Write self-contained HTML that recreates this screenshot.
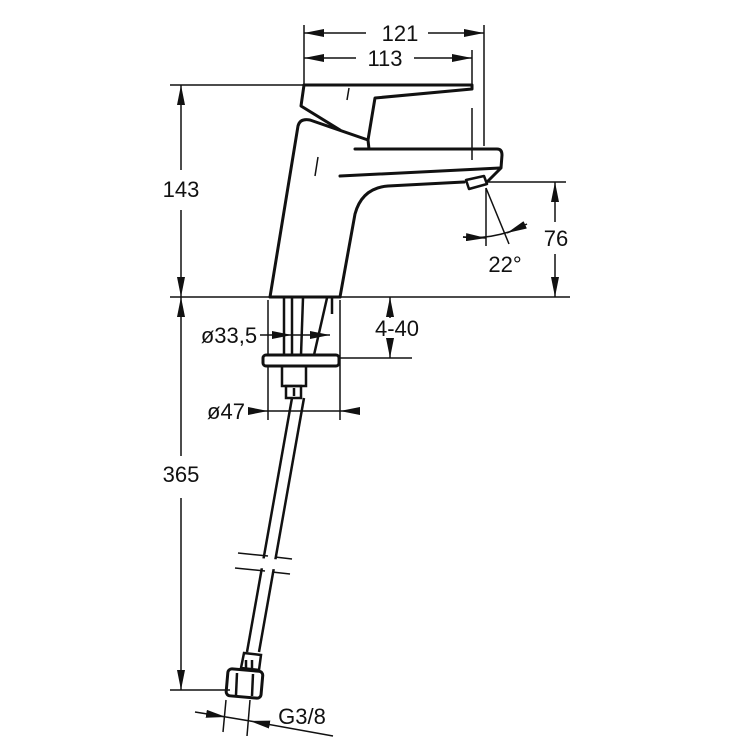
<!DOCTYPE html>
<html><head><meta charset="utf-8"><style>
html,body{margin:0;padding:0;background:#fff;}
svg{display:block;}
text{font-family:"Liberation Sans",sans-serif;font-size:22px;fill:#111;}
</style></head><body>
<svg width="750" height="750" viewBox="0 0 750 750" xmlns="http://www.w3.org/2000/svg">
<defs>
<marker id="a" viewBox="0 0 20 8" refX="20" refY="4" markerWidth="20" markerHeight="8" markerUnits="userSpaceOnUse" orient="auto-start-reverse"><path d="M0,0 L20,4 L0,8 Z" fill="#111"/></marker>
</defs>
<g stroke="#111" fill="none" stroke-width="1.5">
<line x1="304" y1="25" x2="304" y2="85"/>
<line x1="484" y1="25" x2="484" y2="146"/>
<line x1="472" y1="50" x2="472" y2="90"/>
<line x1="472" y1="108" x2="472" y2="160"/>
<line x1="170" y1="85" x2="304" y2="85"/>
<line x1="170" y1="297" x2="570" y2="297"/>
<line x1="486" y1="182" x2="566" y2="182"/>
<line x1="340" y1="358" x2="412" y2="358"/>
<line x1="170" y1="690" x2="230" y2="690"/>
<line x1="268" y1="300" x2="268" y2="420"/>
<line x1="340" y1="300" x2="340" y2="420"/>
<line x1="304" y1="33" x2="366" y2="33" marker-start="url(#a)"/>
<line x1="428" y1="33" x2="484" y2="33" marker-end="url(#a)"/>
<line x1="304" y1="58" x2="356" y2="58" marker-start="url(#a)"/>
<line x1="414" y1="58" x2="472" y2="58" marker-end="url(#a)"/>
<line x1="181" y1="85" x2="181" y2="170" marker-start="url(#a)"/>
<line x1="181" y1="210" x2="181" y2="297" marker-end="url(#a)"/>
<line x1="181" y1="297" x2="181" y2="456" marker-start="url(#a)"/>
<line x1="181" y1="498" x2="181" y2="690" marker-end="url(#a)"/>
<line x1="555" y1="182" x2="555" y2="222" marker-start="url(#a)"/>
<line x1="555" y1="254" x2="555" y2="297" marker-end="url(#a)"/>
<line x1="390" y1="297" x2="390" y2="318" marker-start="url(#a)"/>
<line x1="390" y1="336" x2="390" y2="358" marker-end="url(#a)"/>
<line x1="260" y1="335" x2="292" y2="335" marker-end="url(#a)"/>
<line x1="292" y1="335" x2="330" y2="335" marker-end="url(#a)"/>
<line x1="248" y1="411" x2="268" y2="411" marker-end="url(#a)"/>
<line x1="360" y1="411" x2="340" y2="411" marker-end="url(#a)"/>
<line x1="268" y1="411" x2="340" y2="411"/>
<line x1="195" y1="712" x2="226" y2="717" marker-end="url(#a)"/>
<line x1="226" y1="717" x2="250" y2="721"/>
<line x1="333" y1="736" x2="250" y2="721" marker-end="url(#a)"/>
<line x1="226" y1="700" x2="223" y2="732"/>
<line x1="250" y1="700" x2="247" y2="736"/>
<line x1="486" y1="188" x2="486" y2="246"/>
<line x1="486" y1="188" x2="509" y2="244"/>
<path d="M463,237 Q490,240 520,228" />
<line x1="463" y1="237" x2="486" y2="238" marker-end="url(#a)"/>
<line x1="527" y1="224" x2="507" y2="233" marker-end="url(#a)"/>
</g>
<g stroke="#111" fill="none" stroke-width="3" stroke-linejoin="round" stroke-linecap="round">
<path d="M304,85 L472,85 L472,89 L375,98 L368,140 L369,149"/>
<path d="M304,85 L301,106 L340,130"/>
<path d="M270,297 L298,126 Q300,118 310,120 L368,140"/>
<path d="M355,149 L497,149 Q502,149 502,155 L501,168 L488,181"/>
<path d="M340,176 L500,168"/>
<path d="M340,297 L355,214 Q362,188 388,186 L464,182"/>
<path d="M466,180 L484,176 L487,184 L469,189 Z" stroke-width="2.5"/>
<line x1="270" y1="297" x2="340" y2="297"/>
</g>
<g stroke="#111" fill="none" stroke-width="1.5">
<line x1="349" y1="88" x2="347" y2="100"/>
<line x1="318" y1="157" x2="315" y2="176"/>
</g>
<g stroke="#111" fill="none" stroke-width="2.5">
<line x1="284" y1="298" x2="284" y2="355"/>
<line x1="292" y1="298" x2="292" y2="355"/>
<line x1="303" y1="298" x2="301" y2="355"/>
<line x1="327" y1="298" x2="314" y2="355"/>
<line x1="332" y1="298" x2="332" y2="314"/>
<rect x="263" y="355" width="76" height="11" rx="3" fill="#fff" stroke-width="3"/>
<rect x="282" y="366" width="24" height="20"/>
<rect x="286" y="386" width="15" height="12"/>
<line x1="294" y1="388" x2="294" y2="396"/>
<line x1="292" y1="398" x2="247" y2="652"/>
<line x1="304" y1="398" x2="259" y2="652"/>
<path d="M244,653 L261,655 L259,670 L241,668 Z"/>
<line x1="246" y1="660" x2="246" y2="668"/>
<line x1="252" y1="660" x2="252" y2="668"/>
<rect x="227" y="670" width="35" height="27" rx="4" transform="rotate(5 244 683)" stroke-width="3"/>
<line x1="237" y1="673" x2="236" y2="695"/>
<line x1="253" y1="674" x2="252" y2="696"/>
</g>
<g stroke="#fff" stroke-width="10"><line x1="230" y1="561" x2="300" y2="566"/></g>
<g stroke="#111" stroke-width="1.5">
<line x1="238" y1="553" x2="268" y2="556"/><line x1="275" y1="557" x2="292" y2="559"/>
<line x1="235" y1="568" x2="265" y2="571"/><line x1="272" y1="572" x2="290" y2="574"/>
</g>
<text x="400" y="41" text-anchor="middle">121</text>
<text x="385" y="66" text-anchor="middle">113</text>
<text x="181" y="197" text-anchor="middle">143</text>
<text x="181" y="482" text-anchor="middle">365</text>
<rect x="539" y="228" width="34" height="20" fill="#fff"/>
<text x="556" y="246" text-anchor="middle">76</text>
<text x="505" y="272" text-anchor="middle">22°</text>
<rect x="373" y="318" width="46" height="20" fill="#fff"/>
<text x="397" y="336" text-anchor="middle">4-40</text>
<text x="229" y="343" text-anchor="middle">ø33,5</text>
<text x="226" y="419" text-anchor="middle">ø47</text>
<text x="302" y="724" text-anchor="middle">G3/8</text>
</svg>
</body></html>
